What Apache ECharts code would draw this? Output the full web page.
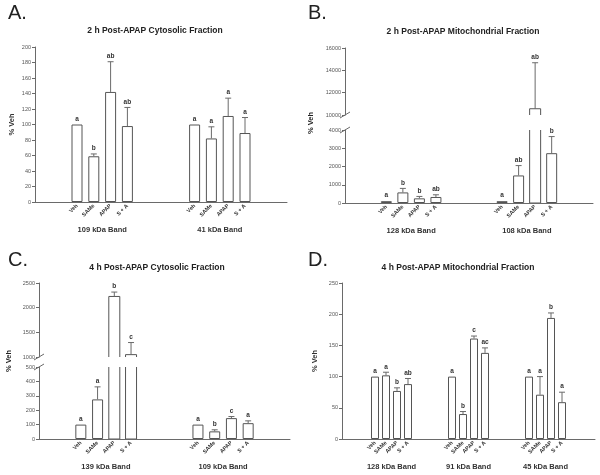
<!DOCTYPE html>
<html><head><meta charset="utf-8">
<script src="https://cdn.jsdelivr.net/npm/echarts@6/dist/echarts.min.js"></script>
<style>html,body{margin:0;padding:0;background:#fff}#c{width:600px;height:475px}</style>
</head><body><div id="c"></div>
<script>
// ---------------- DATA ----------------
const treatments = ['Veh', 'SAMe', 'APAP', 'S + A'];

// A. 2 h Post-APAP Cytosolic Fraction
const bandsA = ['109 kDa Band', '41 kDa Band'];
const meanA  = [100, 59, 142, 98, 100, 82, 111, 89];
const errA   = [null, 62, 181, 122, null, 97, 134, 109];
const sigA   = ['a', 'b', 'ab', 'ab', 'a', 'a', 'a', 'a'];

// B. 2 h Post-APAP Mitochondrial Fraction
const bandsB = ['128 kDa Band', '108 kDa Band'];
const meanB  = [100, 580, 255, 330, 100, 1510, 10560, 2730];
const errB   = [null, 800, 360, 450, null, 2050, 14680, 3640];
const sigB   = ['a', 'b', 'b', 'ab', 'a', 'ab', 'ab', 'b'];

// C. 4 h Post-APAP Cytosolic Fraction
const bandsC = ['139 kDa Band', '109 kDa Band'];
const meanC  = [100, 275, 2227, 1048, 100, 53, 145, 110];
const errC   = [null, 362, 2316, 1293, null, 64, 156, 126];
const sigC   = ['a', 'a', 'b', 'c', 'a', 'b', 'c', 'a'];

// D. 4 h Post-APAP Mitochondrial Fraction
const bandsD = ['128 kDa Band', '91 kDa Band', '45 kDa Band'];
const meanD  = [100, 102, 77, 88, 100, 40, 161, 138, 100, 71, 194, 59];
const errD   = [null, 107, 82, 97, null, 44, 165, 146, null, 100, 202, 75];
const sigD   = ['a', 'a', 'b', 'ab', 'a', 'b', 'c', 'ac', 'a', 'a', 'b', 'a'];

// ---------------- LAYOUT ----------------
const slots2 = [2, 3, 4, 5, 9, 10, 11, 12];         // 15 band slots
const slots3 = [3, 4, 5, 6, 10, 11, 12, 13, 17, 18, 19, 20]; // 24 slots, boundaryGap false
const LINE = '#6a6a6a', BAR = '#555', TXT = '#333', TICK = '#555';
const FONT = 'Liberation Sans, Arial, sans-serif';
const BW = 11;

function cats(n, slots) {
  const c = new Array(n).fill('');
  slots.forEach((s, i) => { c[s] = treatments[i % 4]; });
  return c;
}
// bar data; items cut by an axis break get no border (outline drawn open by custom series)
function barData(n, slots, vals, filt, cutAbove, cutAll) {
  const d = new Array(n).fill('-');
  slots.forEach((s, i) => {
    const v = vals[i];
    if (filt && !filt(v)) return;
    if (cutAll || (cutAbove != null && v > cutAbove)) d[s] = { value: v, itemStyle: { borderWidth: 0 } };
    else d[s] = v;
  });
  return d;
}
function errData(slots, mean, err, filt) {
  const d = [];
  slots.forEach((s, i) => {
    if (!filt || filt(mean[i])) d.push([s, mean[i], err[i] == null ? mean[i] : err[i], i]);
  });
  return d;
}
function errSeries(xi, yi, data, err, sig) {
  return {
    type: 'custom', xAxisIndex: xi, yAxisIndex: yi, data: data, z: 5, clip: false,
    renderItem: function (params, api) {
      const x = api.value(0), m = api.value(1), t = api.value(2), k = api.value(3);
      const pb = api.coord([x, m]), pt = api.coord([x, t]);
      const ch = [];
      if (err[k] != null) {
        ch.push({ type: 'line', shape: { x1: pb[0], y1: pb[1], x2: pt[0], y2: pt[1] }, style: { stroke: LINE, lineWidth: 1 } });
        ch.push({ type: 'line', shape: { x1: pt[0] - 3, y1: pt[1], x2: pt[0] + 3, y2: pt[1] }, style: { stroke: LINE, lineWidth: 1 } });
      }
      ch.push({ type: 'text', style: { text: sig[k], x: pt[0], y: pt[1] - 2, align: 'center', verticalAlign: 'bottom',
        font: 'bold 6.5px ' + FONT, fill: TXT } });
      return { type: 'group', children: ch };
    }
  };
}
// open outlines for bars crossing an axis break
function cutOutline(xi, yi, slots, vals, filt, axMin, axMax, upper) {
  const data = [];
  slots.forEach((s, i) => { if (filt(vals[i])) data.push([s, vals[i]]); });
  return {
    type: 'custom', xAxisIndex: xi, yAxisIndex: yi, data: data, z: 4, clip: true,
    renderItem: function (params, api) {
      const x = api.value(0), v = api.value(1);
      const h = BW / 2;
      if (upper) {
        const pb = api.coord([x, axMin]), pt = api.coord([x, v]);
        return { type: 'polyline', shape: { points: [[pb[0] - h, pb[1]], [pt[0] - h, pt[1]], [pt[0] + h, pt[1]], [pb[0] + h, pb[1]]] },
          style: { stroke: BAR, lineWidth: 1, fill: null } };
      }
      const p0 = api.coord([x, 0]), p1 = api.coord([x, axMax]);
      return { type: 'polyline', shape: { points: [[p1[0] - h, p1[1]], [p0[0] - h, p0[1]], [p0[0] + h, p0[1]], [p1[0] + h, p1[1]]] },
        style: { stroke: BAR, lineWidth: 1, fill: null } };
    }
  };
}

const grids = [
  { left: 35, top: 47, width: 252, height: 155 },    // 0 A
  { left: 345, top: 48, width: 248, height: 67 },    // 1 B upper
  { left: 345, top: 130, width: 248, height: 73 },   // 2 B lower
  { left: 39, top: 283, width: 251, height: 74 },    // 3 C upper
  { left: 39, top: 367, width: 251, height: 72 },    // 4 C lower
  { left: 342, top: 283, width: 253, height: 156 }   // 5 D
].map(g => Object.assign({ containLabel: false, outerBoundsMode: 'none' }, g));

function catAxis(gi, n, slots, show, gap) {
  return {
    type: 'category', gridIndex: gi, data: cats(n, slots), boundaryGap: gap, show: show,
    axisLine: { show: true, lineStyle: { color: LINE, width: 1 } },
    axisTick: { show: false },
    axisLabel: { interval: 0, rotate: 45, fontSize: 5.5, fontWeight: 'bold', color: TXT, margin: 3, fontFamily: FONT },
    splitLine: { show: false }
  };
}
function bandAxis(gi, max, interval, slots, bands, half) {
  const centers = bands.map((b, j) => {
    const s = slots.slice(j * 4, j * 4 + 4);
    return (s[0] + s[3]) / 2 + half;
  });
  return {
    type: 'value', gridIndex: gi, position: 'bottom', min: 0, max: max, interval: interval,
    axisLine: { show: false }, axisTick: { show: false }, splitLine: { show: false },
    axisLabel: { show: true, margin: 24, fontSize: 7.5, fontWeight: 'bold', color: TXT, fontFamily: FONT,
      showMinLabel: true, showMaxLabel: true,
      formatter: function (v) { const j = centers.findIndex(c => Math.abs(c - v) < 1e-6); return j >= 0 ? bands[j] : ''; } }
  };
}
function valAxis(gi, min, max, interval, name, gap) {
  return {
    type: 'value', gridIndex: gi, min: min, max: max, interval: interval,
    name: name || '', nameLocation: 'middle', nameRotate: 90, nameGap: gap || 23,
    nameTextStyle: { fontSize: 7.5, fontWeight: 'bold', color: TXT, fontFamily: FONT },
    axisLine: { show: true, lineStyle: { color: LINE, width: 1 } },
    axisTick: { show: true, inside: false, length: 3, lineStyle: { color: LINE } },
    axisLabel: { fontSize: 5.5, color: TICK, margin: 4, fontFamily: FONT, formatter: v => String(v) },
    splitLine: { show: false }
  };
}
function bars(xi, yi, data, w) {
  return { type: 'bar', xAxisIndex: xi, yAxisIndex: yi, data: data, barWidth: w, clip: true,
    itemStyle: { color: '#fff', borderColor: BAR, borderWidth: 1 }, silent: true, animation: false };
}

const xAxes = [
  catAxis(0, 15, slots2, true, true),            // 0 A
  catAxis(1, 15, slots2, false, true),           // 1 B upper
  catAxis(2, 15, slots2, true, true),            // 2 B lower
  catAxis(3, 15, slots2, false, true),           // 3 C upper
  catAxis(4, 15, slots2, true, true),            // 4 C lower
  catAxis(5, 24, slots3, true, false),           // 5 D
  bandAxis(0, 15, 1, slots2, bandsA, 0.5),       // 6
  bandAxis(2, 15, 1, slots2, bandsB, 0.5),       // 7
  bandAxis(4, 15, 1, slots2, bandsC, 0.5),       // 8
  bandAxis(5, 23, 0.5, slots3, bandsD, 0)        // 9
];
const bLowMax = 4000, bUpMin = 10000, bUpMax = 16000, cLowMax = 500, cUpMin = 1000, cUpMax = 2500;
const yAxes = [
  valAxis(0, 0, 200, 20, '% Veh', 19),
  valAxis(1, bUpMin, bUpMax, 2000),
  valAxis(2, 0, bLowMax, 1000),
  valAxis(3, cUpMin, cUpMax, 500),
  valAxis(4, 0, cLowMax, 100),
  valAxis(5, 0, 250, 50, '% Veh', 23)
];

const series = [
  bars(0, 0, barData(15, slots2, meanA), BW),
  errSeries(0, 0, errData(slots2, meanA, errA), errA, sigA),

  bars(1, 1, barData(15, slots2, meanB, v => v > bUpMin, null, true), BW),
  bars(2, 2, barData(15, slots2, meanB, null, bLowMax), BW),
  cutOutline(1, 1, slots2, meanB, v => v > bUpMin, bUpMin, bUpMax, true),
  cutOutline(2, 2, slots2, meanB, v => v > bLowMax, 0, bLowMax, false),
  errSeries(1, 1, errData(slots2, meanB, errB, v => v > bLowMax), errB, sigB),
  errSeries(2, 2, errData(slots2, meanB, errB, v => v <= bLowMax), errB, sigB),

  bars(3, 3, barData(15, slots2, meanC, v => v > cUpMin, null, true), BW),
  bars(4, 4, barData(15, slots2, meanC, null, cLowMax), BW),
  cutOutline(3, 3, slots2, meanC, v => v > cUpMin, cUpMin, cUpMax, true),
  cutOutline(4, 4, slots2, meanC, v => v > cLowMax, 0, cLowMax, false),
  errSeries(3, 3, errData(slots2, meanC, errC, v => v > cLowMax), errC, sigC),
  errSeries(4, 4, errData(slots2, meanC, errC, v => v <= cLowMax), errC, sigC),

  bars(5, 5, barData(24, slots3, meanD), 8),
  errSeries(5, 5, errData(slots3, meanD, errD), errD, sigD)
];

function txt(x, y, s, font, align, rot) {
  return { type: 'text', x: x, y: y, rotation: rot || 0, silent: true,
    style: { text: s, font: font, fill: '#222', align: align || 'center', verticalAlign: 'middle' } };
}
function brk(x, y) {
  return { type: 'line', silent: true, shape: { x1: x - 5, y1: y + 3, x2: x + 5, y2: y - 3 }, style: { stroke: LINE, lineWidth: 1 } };
}
const graphics = [
  txt(8, 13, 'A.', '20px ' + FONT, 'left'),
  txt(308, 13, 'B.', '20px ' + FONT, 'left'),
  txt(8, 260, 'C.', '20px ' + FONT, 'left'),
  txt(308, 260, 'D.', '20px ' + FONT, 'left'),
  txt(155, 31, '2 h Post-APAP Cytosolic Fraction', 'bold 8.5px ' + FONT),
  txt(463, 32, '2 h Post-APAP Mitochondrial Fraction', 'bold 8.5px ' + FONT),
  txt(157, 268, '4 h Post-APAP Cytosolic Fraction', 'bold 8.5px ' + FONT),
  txt(458, 268, '4 h Post-APAP Mitochondrial Fraction', 'bold 8.5px ' + FONT),
  txt(311, 123, '% Veh', 'bold 7.5px ' + FONT, 'center', Math.PI / 2),
  txt(9, 361, '% Veh', 'bold 7.5px ' + FONT, 'center', Math.PI / 2),
  brk(345, 115), brk(345, 130),
  brk(39, 357), brk(39, 367)
];

const chart = echarts.init(document.getElementById('c'), null, { renderer: 'canvas' });
chart.setOption({
  animation: false,
  backgroundColor: '#fff',
  grid: grids,
  xAxis: xAxes,
  yAxis: yAxes,
  series: series,
  graphic: { elements: graphics }
});
</script>
</body></html>
